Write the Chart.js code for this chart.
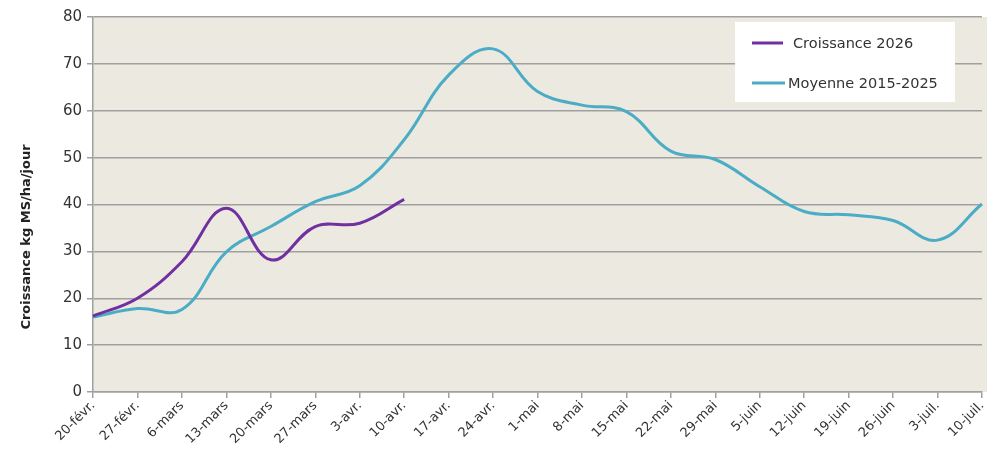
<!DOCTYPE html>
<html>
<head>
<meta charset="utf-8">
<script src="https://cdn.jsdelivr.net/npm/chart.js@4"></script>
<style>
  html, body { margin: 0; padding: 0; background: #fff; }
  #wrap { width: 994px; height: 454px; }
</style>
</head>
<body>
<div id="wrap"><canvas id="chart" width="994" height="454"></canvas></div>
<script>
// ================= DATA =================
const labels = ["20-févr.", "27-févr.", "6-mars", "13-mars", "20-mars", "27-mars", "3-avr.",
  "10-avr.", "17-avr.", "24-avr.", "1-mai", "8-mai", "15-mai", "22-mai", "29-mai",
  "5-juin", "12-juin", "19-juin", "26-juin", "3-juil.", "10-juil."];

const croissance2026 = [16.2, 20, 27.8, 39.2, 28.2, 35.3, 36, 41.1];
const moyenne2015_2025 = [16, 17.8, 17.6, 29.9, 35.3, 40.6, 44, 53.8, 67.6, 73.2, 64.1,
  61.2, 59.8, 51.4, 49.6, 43.8, 38.5, 37.8, 36.6, 32.4, 40.1];

const yTicks = [0, 10, 20, 30, 40, 50, 60, 70, 80];

const FONT = "'DejaVu Sans', Verdana, sans-serif";

// plot background
const bgPlugin = {
  id: "bg",
  beforeDraw(chart) {
    const { ctx, chartArea: a } = chart;
    ctx.save();
    ctx.fillStyle = "#ECE9E1";
    ctx.fillRect(a.left, a.top, a.right - a.left + 5, a.bottom - a.top);
    ctx.restore();
  }
};

// y title + legend box
const extrasPlugin = {
  id: "extras",
  afterDraw(chart) {
    const ctx = chart.ctx;
    ctx.save();
    ctx.translate(27, 237);
    ctx.rotate(-Math.PI / 2);
    ctx.font = "bold 13px " + FONT;
    ctx.fillStyle = "#222";
    ctx.textAlign = "center";
    ctx.textBaseline = "middle";
    ctx.fillText("Croissance kg MS/ha/jour", 0, 0);
    ctx.restore();

    // legend
    ctx.save();
    ctx.fillStyle = "#fff";
    ctx.fillRect(735, 22, 220, 80);
    ctx.font = "14.5px " + FONT;
    ctx.textBaseline = "middle";
    ctx.fillStyle = "#333";
    const ds = chart.data.datasets;
    const rows = [[752, 783, 43, 793], [752, 785, 83, 788]];
    rows.forEach((r, i) => {
      ctx.strokeStyle = ds[i].borderColor;
      ctx.lineWidth = 3;
      ctx.beginPath();
      ctx.moveTo(r[0], r[2]);
      ctx.lineTo(r[1], r[2]);
      ctx.stroke();
      ctx.fillText(ds[i].label, r[3], r[2] + 1);
    });
    ctx.restore();
  }
};

new Chart(document.getElementById("chart"), {
  type: "line",
  data: {
    labels: labels,
    datasets: [
      {
        label: "Croissance 2026",
        data: croissance2026,
        borderColor: "#7030A0",
        borderWidth: 3,
        pointRadius: 0,
        tension: 0.4,
        fill: false
      },
      {
        label: "Moyenne 2015-2025",
        data: moyenne2015_2025,
        borderColor: "#4BACC6",
        borderWidth: 3,
        pointRadius: 0,
        tension: 0.4,
        fill: false
      }
    ]
  },
  options: {
    responsive: false,
    animation: false,
    layout: { padding: { top: 17, right: 12, left: 0, bottom: 0 } },
    plugins: {
      legend: { display: false },
      tooltip: { enabled: false }
    },
    scales: {
      x: {
        offset: false,
        grid: {
          drawOnChartArea: false,
          drawTicks: true,
          tickLength: 6,
          color: "#A0A0A0",
          lineWidth: 1.5
        },
        border: { color: "#A0A0A0", width: 1.5 },
        ticks: {
          autoSkip: false,
          maxRotation: 45,
          minRotation: 45,
          padding: 0,
          color: "#333",
          font: { family: FONT, size: 13 }
        },
        afterFit(scale) { scale.height = 62; }
      },
      y: {
        min: 0,
        max: 80,
        afterBuildTicks(scale) { scale.ticks = yTicks.map(v => ({ value: v })); },
        grid: {
          color: "#A0A0A0",
          lineWidth: 1.5,
          tickLength: 6
        },
        border: { color: "#A0A0A0", width: 1.5 },
        ticks: {
          color: "#333",
          padding: 5,
          font: { family: FONT, size: 15 }
        },
        afterFit(scale) { scale.width = 93; }
      }
    }
  },
  plugins: [bgPlugin, extrasPlugin]
});
</script>
</body>
</html>
